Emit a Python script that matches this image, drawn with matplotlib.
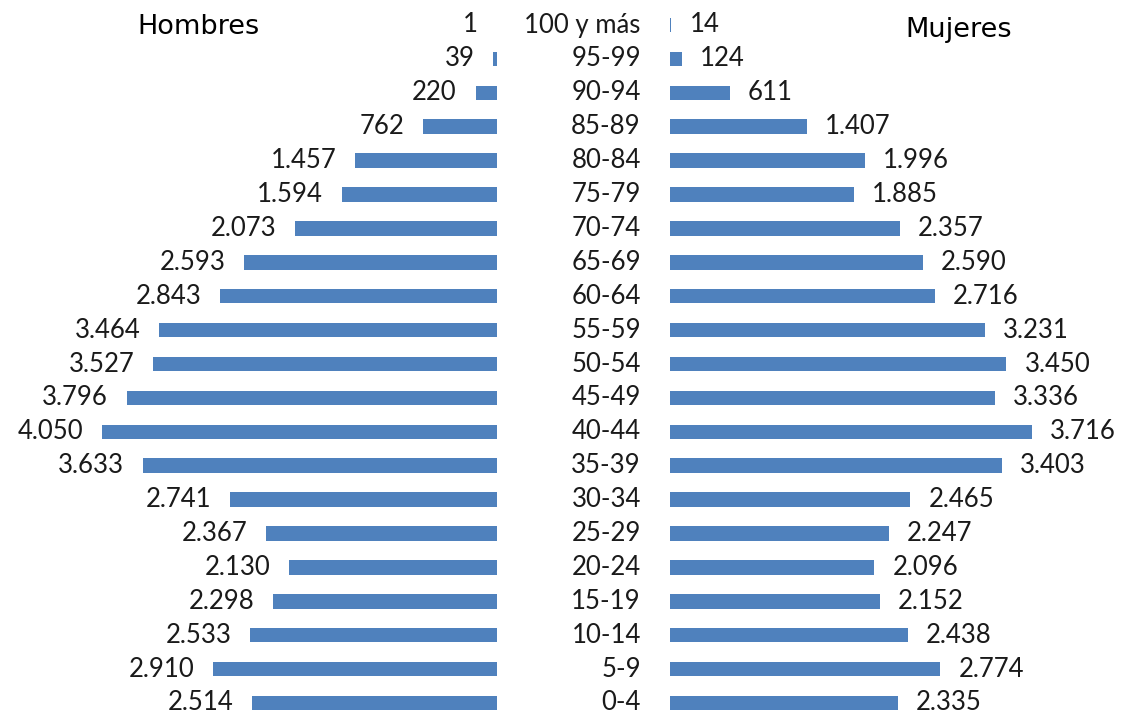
import matplotlib.pyplot as plt
import numpy as np

# Grupos de edad, de arriba hacia abajo
grupos = ["100 y más", "95-99", "90-94", "85-89", "80-84", "75-79", "70-74",
          "65-69", "60-64", "55-59", "50-54", "45-49", "40-44", "35-39",
          "30-34", "25-29", "20-24", "15-19", "10-14", "5-9", "0-4"]
hombres = [1, 39, 220, 762, 1457, 1594, 2073, 2593, 2843, 3464, 3527, 3796,
           4050, 3633, 2741, 2367, 2130, 2298, 2533, 2910, 2514]
mujeres = [14, 124, 611, 1407, 1996, 1885, 2357, 2590, 2716, 3231, 3450, 3336,
           3716, 3403, 2465, 2247, 2096, 2152, 2438, 2774, 2335]

color = "#4F81BD"
plt.rcParams["font.family"] = ["Lato", "DejaVu Sans"]
fs = 18.5

W, H = 1124, 715
fig = plt.figure(figsize=(W / 100, H / 100), dpi=100)

px_per_unit = 0.0975
y = np.arange(len(grupos))[::-1]
row = 33.9
ybot = -(H - 703) / row
ytop = 20 + 25 / row

def fmt(v):
    return f"{v:,}".replace(",", ".")

# Hombres: eje invertido a la izquierda
left_w = 497
ax_h = fig.add_axes([0, 0, left_w / W, 1])
ax_h.barh(y, hombres, height=0.43, color=color)
ax_h.set_xlim(left_w / px_per_unit, 0)
ax_h.set_ylim(ybot, ytop)
for yi, v in zip(y, hombres):
    ax_h.annotate(fmt(v), (v, yi), xytext=(-13.5, 0), textcoords="offset points",
                  ha="right", va="center", fontsize=fs, color="#1a1a1a")
ax_h.axis("off")

# Mujeres: eje a la derecha
right_x = 670
ax_m = fig.add_axes([right_x / W, 0, (W - right_x) / W, 1])
ax_m.barh(y, mujeres, height=0.43, color=color)
ax_m.set_xlim(0, (W - right_x) / px_per_unit)
ax_m.set_ylim(ybot, ytop)
for yi, v in zip(y, mujeres):
    ax_m.annotate(fmt(v), (v, yi), xytext=(13, 0), textcoords="offset points",
                  ha="left", va="center", fontsize=fs, color="#1a1a1a")
ax_m.axis("off")

# Etiquetas de grupos de edad en el centro
for yi, g in zip(y, grupos):
    ax_m.annotate(g, (0, yi), xytext=(-21, 0), textcoords="offset points",
                  ha="right", va="center", fontsize=fs, color="#1a1a1a")

fig.text(137 / W, 1 - 27 / H, "Hombres", ha="left", va="center",
         fontsize=19.5, family="DejaVu Sans")
fig.text(905 / W, 1 - 30 / H, "Mujeres", ha="left", va="center",
         fontsize=19.5, family="DejaVu Sans")

fig.savefig("out.png", dpi=100, facecolor="white")
